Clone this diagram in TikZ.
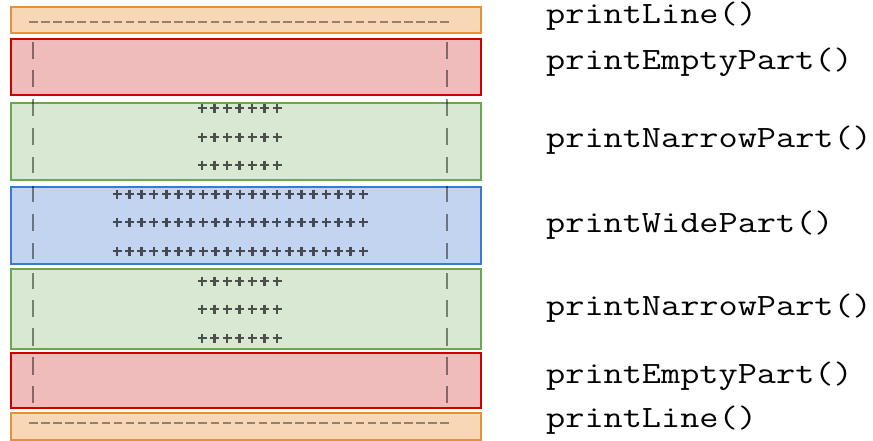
\documentclass[tikz,border=0pt]{standalone}
\usepackage{fontspec}
\usepackage{graphicx}
\definecolor{orfill}{HTML}{F7D7B5}
\definecolor{ordraw}{HTML}{E69138}
\definecolor{rdfill}{HTML}{EFBBBB}
\definecolor{rddraw}{HTML}{CC0000}
\definecolor{grfill}{HTML}{D9E8D3}
\definecolor{grdraw}{HTML}{6AA84F}
\definecolor{blfill}{HTML}{C3D4F1}
\definecolor{bldraw}{HTML}{3C78D8}
\newcommand{\codelbl}[1]{\scalebox{1.2}[1]{\ttfamily\fontsize{31}{31}\selectfont #1}}
\tikzset{
  band/.style={rectangle, inner sep=0pt, line width=2pt, minimum width=470pt, anchor=north west},
  orband/.style={band, fill=orfill, draw=ordraw},
  rdband/.style={band, fill=rdfill, draw=rddraw},
  grband/.style={band, fill=grfill, draw=grdraw},
  blband/.style={band, fill=blfill, draw=bldraw},
  barline/.style={line width=2.9pt, draw=black, draw opacity=0.45},
  plusline/.style={line width=2.7pt, draw=black, draw opacity=0.65},
  dashline/.style={line width=2.9pt, draw=black, draw opacity=0.4},
  lbl/.style={anchor=base west, inner sep=0pt}
}
\begin{document}
\begin{tikzpicture}[x=1pt,y=-1pt]
\useasboundingbox (0,0) rectangle (873,440);
% bands
\node[orband, minimum height=26pt] (o1) at (10,6) {};
\node[rdband, minimum height=56pt] (r1) at (10,38) {};
\node[grband, minimum height=77pt] (g1) at (10,102) {};
\node[blband, minimum height=77pt] (b1) at (10,186) {};
\node[grband, minimum height=80pt] (g2) at (10,268) {};
\node[rdband, minimum height=55pt] (r2) at (10,352) {};
\node[orband, minimum height=27pt] (o2) at (10,412) {};
% dashes
\foreach \k in {0,...,34} {
  \draw[dashline] ({29+12.1*\k},22) -- ++(8.5,0);
  \draw[dashline] ({29+12.1*\k},423) -- ++(8.5,0);
}
% bars
\foreach \ya/\yb in {42/59, 70/87, 99/116, 128/145, 157/173, 186/202, 214/231, 243/259, 273/289, 300/317, 328/346, 357/375, 386/403} {
  \draw[barline] (33,\ya) -- (33,\yb);
  \draw[barline] (447,\ya) -- (447,\yb);
}
% narrow plus rows
\foreach \y in {108,137,165,281,309,338} {
  \foreach \k in {0,...,6} {
    \draw[plusline] ({202+12.5*\k-4.5},\y) -- ++(9,0) ({202+12.5*\k},\y-4.5) -- ++(0,9);
  }
}
% wide plus rows
\foreach \y in {194,222,251} {
  \foreach \k in {0,...,20} {
    \draw[plusline] ({117+12.3*\k-4.5},\y) -- ++(9,0) ({117+12.3*\k},\y-4.5) -- ++(0,9);
  }
}
% labels
\node[lbl] (l1) at (546,23) {\codelbl{printLine()}};
\node[lbl] (l2) at (546,69) {\codelbl{printEmptyPart()}};
\node[lbl] (l3) at (546,147) {\codelbl{printNarrowPart()}};
\node[lbl] (l4) at (546,232) {\codelbl{printWidePart()}};
\node[lbl] (l5) at (546,315) {\codelbl{printNarrowPart()}};
\node[lbl] (l6) at (546,383) {\codelbl{printEmptyPart()}};
\node[lbl] (l7) at (546,427) {\codelbl{printLine()}};
\end{tikzpicture}
\end{document}
